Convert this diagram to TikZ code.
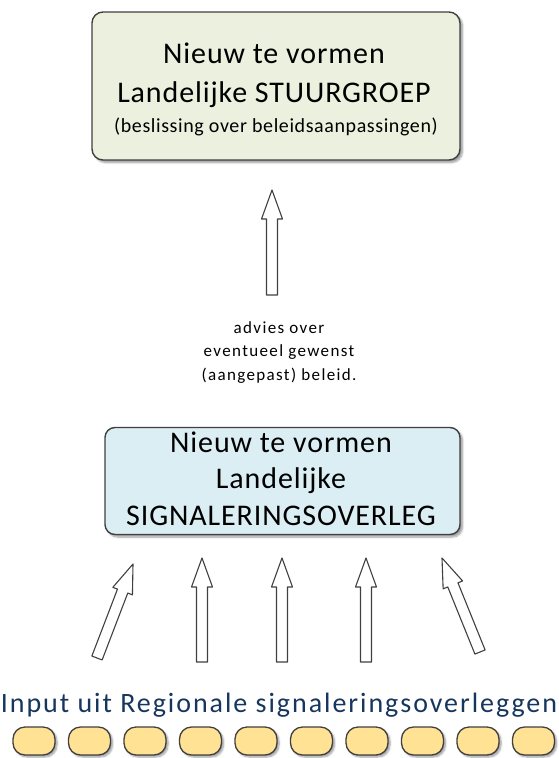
\documentclass[tikz,border=0pt]{standalone}
\usepackage{fontspec}
\setmainfont{Carlito}[LetterSpace=3]
\newfontfamily\ruim{Carlito}[LetterSpace=8]
\newfontfamily\breed{Carlito}[LetterSpace=7]
\usetikzlibrary{positioning,calc,shadows.blur}
\definecolor{groen}{RGB}{235,241,222}
\definecolor{blauw}{RGB}{218,238,243}
\definecolor{geel}{RGB}{255,226,148}
\definecolor{rand}{RGB}{64,64,64}
\definecolor{inkt}{RGB}{23,54,93}
\tikzset{box/.style={draw=rand,line width=1.4pt,rounded corners=11pt,align=center,inner sep=0pt,
        blur shadow={shadow xshift=2.5pt,shadow yshift=-2.5pt,shadow blur steps=6}}}
\tikzset{gr/.style={fill=groen}}
\tikzset{bl/.style={fill=blauw}}
\tikzset{ovaal/.style={draw=rand,line width=1.3pt,fill=geel,rounded corners=12pt,minimum width=42pt,minimum height=28pt,
        blur shadow={shadow xshift=2pt,shadow yshift=-2pt,shadow blur steps=5}}}
\tikzset{pijl/.style={draw=rand,fill=white,line width=1.1pt,line join=round}}
\newcommand\blokpijl[2]{%
    \coordinate (kop) at ($(#2)!29pt!(#1)$);
    \draw[pijl] ($(#1)!5.5pt!90:(#2)$) -- ($(kop)!5.5pt!-90:(#1)$) -- ($(kop)!10.5pt!-90:(#1)$) -- (#2)
        -- ($(kop)!10.5pt!90:(#1)$) -- ($(kop)!5.5pt!90:(#1)$) -- ($(#1)!5.5pt!-90:(#2)$) -- cycle;}
\begin{document}
\begin{tikzpicture}[x=1pt,y=-1pt]
    \useasboundingbox (0,0) rectangle (558,758);
    \node[box,gr,minimum width=368pt,minimum height=148pt] (stuur) at (276,86) {};
    \node[align=center,font=\fontsize{30}{39}\selectfont,anchor=base] (stuurtekst) at (274,102)
        {Nieuw te vormen\\ Landelijke STUURGROEP};
    \node[font=\fontsize{20}{24}\selectfont,anchor=base] (besluit) at (276,132) {(beslissing over beleidsaanpassingen)};
    \coordinate (s0) at (272,295);
    \coordinate (t0) at (272,190);
    \blokpijl{s0}{t0}
    \node[align=center,font=\ruim\fontsize{17}{23.5}\selectfont,anchor=base] (advies) at (279,380)
        {advies over\\ eventueel gewenst\\ (aangepast) beleid.};
    \node[box,bl,rounded corners=10pt,minimum width=355pt,minimum height=107pt] (signaal) at (282.5,481) {};
    \node[align=center,font=\fontsize{30}{36.5}\selectfont,anchor=base] (signaaltekst) at (281,525)
        {Nieuw te vormen\\ Landelijke\\ SIGNALERINGSOVERLEG};
    \coordinate (s1) at (97,658);
    \coordinate (t1) at (133,564);
    \coordinate (s2) at (202,662);
    \coordinate (t2) at (202,558);
    \coordinate (s3) at (282,662);
    \coordinate (t3) at (282,558);
    \coordinate (s4) at (366,662);
    \coordinate (t4) at (366,558);
    \coordinate (s5) at (480,652);
    \coordinate (t5) at (442,558);
    \foreach \i in {1,...,5}
        \blokpijl{s\i}{t\i};
    \node[font=\breed\fontsize{28}{30}\selectfont,text=inkt,anchor=base] (input) at (279,712)
        {Input uit Regionale signaleringsoverleggen};
    \foreach \i in {0,...,9}
        \node[ovaal] (r\i) at (34+55.5*\i,741) {};
\end{tikzpicture}
\end{document}
